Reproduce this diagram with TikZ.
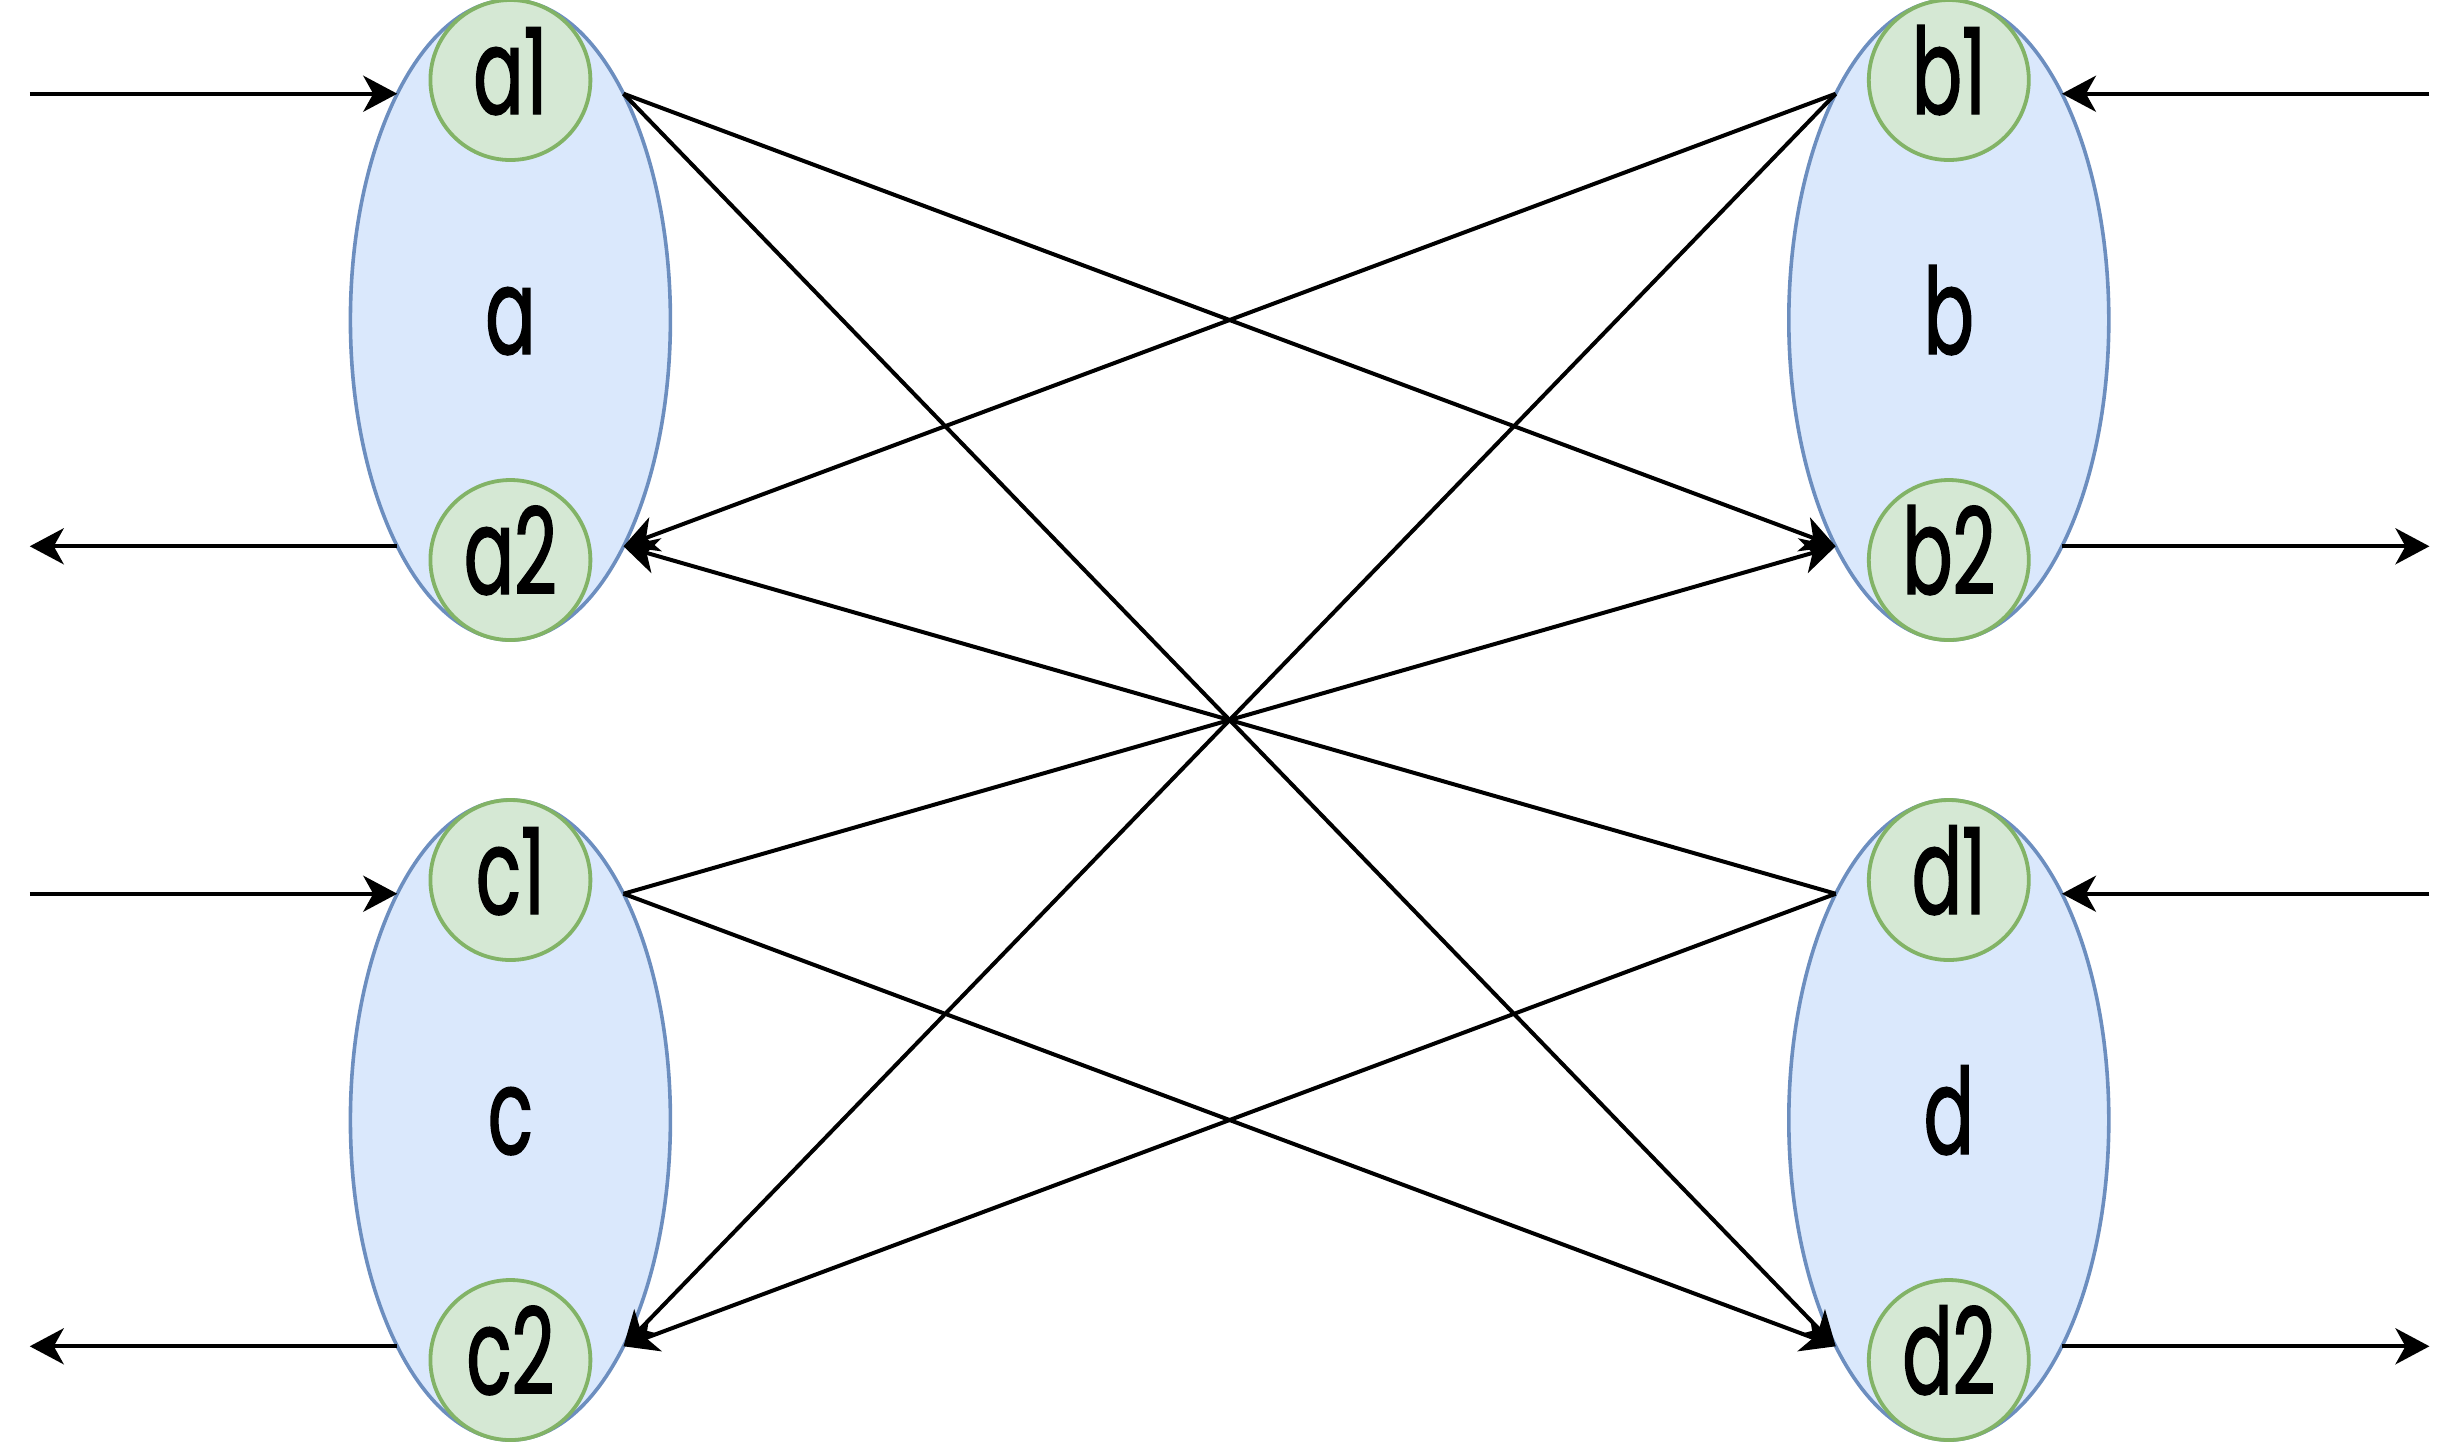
\documentclass[tikz,border=0pt]{standalone}
\usepackage{fontspec}
\newfontfamily\lblfont[FakeStretch=0.62,FakeBold=1.2]{Poppins}
\usetikzlibrary{arrows.meta,shapes.geometric}
\definecolor{grpfill}{HTML}{DAE8FC}
\definecolor{grpline}{HTML}{6C8EBF}
\definecolor{portfill}{HTML}{D5E8D4}
\definecolor{portline}{HTML}{82B366}

\begin{document}
\begin{tikzpicture}[x=1.6pt,y=-1.6pt,
  lbl/.style={font=\lblfont\fontsize{60}{64}\selectfont, text height=34pt, text depth=0pt},
  grp/.style={ellipse, draw=grpline, fill=grpfill, line width=1.8pt,
    minimum width=160pt, minimum height=320pt, inner sep=0pt, outer sep=0pt, lbl},
  port/.style={circle, draw=portline, fill=portfill, line width=1.9pt,
    minimum size=80pt, inner sep=0pt, outer sep=0pt, lbl},
  conn/.style={line width=2pt, -{Stealth[length=17pt,width=18pt,inset=5pt]}}
]
\useasboundingbox (0,0) rectangle (770,451.25);

% outer ends of the side connectors
\coordinate (lx) at (9.3,0);
\coordinate (rx) at (759.2,0);

% groups
\node[grp] (a) at (159.5,100) {a};
\node[grp] (c) at (159.5,350) {c};
\node[grp] (b) at (609,100) {b};
\node[grp] (d) at (609,350) {d};

% ports
\node[port] (a1) at (159.5,25) {a1};
\node[port] (a2) at (159.5,175) {a2};
\node[port] (c1) at (159.5,275) {c1};
\node[port] (c2) at (159.5,425) {c2};
\node[port] (b1) at (609,25) {b1};
\node[port] (b2) at (609,175) {b2};
\node[port] (d1) at (609,275) {d1};
\node[port] (d2) at (609,425) {d2};

% side inputs and outputs
\draw[conn] (a.north west -| lx) -- (a.north west);
\draw[conn] (a.south west) -- (a.south west -| lx);
\draw[conn] (c.north west -| lx) -- (c.north west);
\draw[conn] (c.south west) -- (c.south west -| lx);
\draw[conn] (b.north east -| rx) -- (b.north east);
\draw[conn] (b.south east) -- (b.south east -| rx);
\draw[conn] (d.north east -| rx) -- (d.north east);
\draw[conn] (d.south east) -- (d.south east -| rx);

% cross links
\draw[conn] (a.north east) -- (b.south west);
\draw[conn] (a.north east) -- (d.south west);
\draw[conn] (c.north east) -- (b.south west);
\draw[conn] (c.north east) -- (d.south west);
\draw[conn] (b.north west) -- (a.south east);
\draw[conn] (b.north west) -- (c.south east);
\draw[conn] (d.north west) -- (a.south east);
\draw[conn] (d.north west) -- (c.south east);
\end{tikzpicture}
\end{document}
